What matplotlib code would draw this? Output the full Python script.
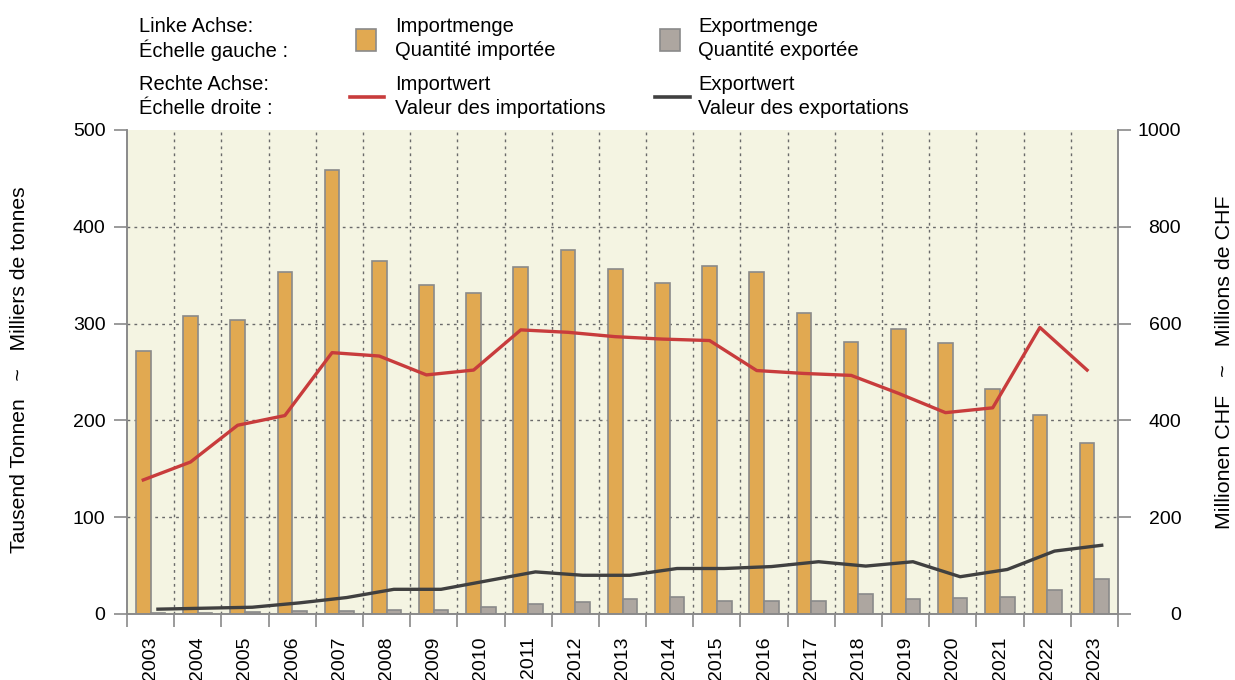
import matplotlib.pyplot as plt
from matplotlib.patches import Rectangle
from matplotlib.lines import Line2D
import numpy as np

plt.rcParams['font.family'] = ['Liberation Sans', 'DejaVu Sans']

# Daten
jahre = [str(j) for j in range(2003, 2024)]
import_menge = [272, 308, 304, 353, 459, 365, 340, 332, 358, 376, 356,
                342, 360, 353, 311, 281, 294, 280, 232, 206, 177]
export_menge = [1, 1, 2, 3, 3, 4, 4, 7, 10, 12, 15,
                18, 13, 13, 13, 21, 16, 17, 18, 25, 36]
import_wert = [277, 314, 390, 410, 540, 533, 494, 504, 587, 582, 573,
               568, 565, 503, 497, 493, 456, 416, 426, 592, 504]
export_wert = [10, 12, 14, 23, 34, 51, 51, 69, 87, 80, 80,
               94, 94, 98, 108, 99, 108, 77, 92, 130, 142]

C_IMPORT = '#E1A951'
C_EXPORT = '#ADA6A0'
C_ROT = '#C83C3C'
C_SCHWARZ = '#404040'
C_RAND = '#8A8A8A'
C_HG = '#F4F4E2'

fig = plt.figure(figsize=(12.35, 6.8), dpi=100)
ax = fig.add_axes([127 / 1235, 1 - 614 / 680, (1118 - 127) / 1235, (614 - 130) / 680])
ax2 = ax.twinx()

x = np.arange(len(jahre))
bw = 0.31

ax.set_facecolor(C_HG)
ax.bar(x - bw / 2, import_menge, bw, color=C_IMPORT, edgecolor=C_RAND, linewidth=1.2, zorder=3)
ax.bar(x + bw / 2, export_menge, bw, color=C_EXPORT, edgecolor=C_RAND, linewidth=1.2, zorder=3)

ax2.plot(x - bw / 2, import_wert, color=C_ROT, linewidth=2.4, zorder=4)
ax2.plot(x + bw / 2, export_wert, color=C_SCHWARZ, linewidth=2.4, zorder=4)

# Achsen
ax.set_xlim(-0.5, len(jahre) - 0.5)
ax.set_ylim(0, 500)
ax2.set_ylim(0, 1000)
ax.set_yticks(range(0, 501, 100))
ax2.set_yticks(range(0, 1001, 200))

ax.set_xticks(np.arange(-0.5, len(jahre), 1.0))
ax.set_xticklabels([])
ax.set_xticks(x, minor=True)
ax.set_xticklabels(jahre, minor=True, rotation=90, va='top')
ax.tick_params(axis='x', which='major', length=9.5, color=C_RAND, width=1.2)
ax.tick_params(axis='x', which='minor', length=0, pad=16, labelsize=14)
ax.tick_params(axis='y', length=9.5, color=C_RAND, width=1.2, labelsize=14, pad=6)
ax2.tick_params(axis='y', length=9.5, color=C_RAND, width=1.2, labelsize=14, pad=36)
for lab in ax2.get_yticklabels():
    lab.set_horizontalalignment('right')

for a in (ax, ax2):
    for s in a.spines.values():
        s.set_color(C_RAND)
        s.set_linewidth(1.2)
    a.spines['top'].set_visible(False)

# Gitter
for xv in np.arange(0.5, len(jahre) - 1, 1.0):
    ax.axvline(xv, color='#6a6a6a', linestyle=(0, (2, 3)), linewidth=1, zorder=1)
for yv in range(100, 500, 100):
    ax.axhline(yv, color='#6a6a6a', linestyle=(0, (2, 3)), linewidth=1, zorder=1)

# Legende / Beschriftungen in Pixelkoordinaten
def fx(px):
    return px / 1235

def fy(py):
    return 1 - py / 680

fig.text(fx(20), fy(370), 'Tausend Tonnen   ~   Milliers de tonnes', fontsize=15.2,
         rotation=90, ha='center', va='center')
fig.text(fx(1225), fy(362), 'Millionen CHF   ~   Millions de CHF', fontsize=15.4,
         rotation=90, ha='center', va='center')

fs = 14.5
fig.text(fx(139), fy(27), 'Linke Achse:', fontsize=fs, va='center')
fig.text(fx(139), fy(50), 'Échelle gauche :', fontsize=fs, va='center')
fig.text(fx(139), fy(85), 'Rechte Achse:', fontsize=fs, va='center')
fig.text(fx(139), fy(109), 'Échelle droite :', fontsize=fs, va='center')

fig.add_artist(Rectangle((fx(356), fy(51)), fx(376) - fx(356), fy(29) - fy(51),
                         transform=fig.transFigure, facecolor=C_IMPORT, edgecolor=C_RAND, linewidth=1.2))
fig.add_artist(Rectangle((fx(660), fy(51)), fx(680) - fx(660), fy(29) - fy(51),
                         transform=fig.transFigure, facecolor=C_EXPORT, edgecolor=C_RAND, linewidth=1.2))
fig.add_artist(Line2D([fx(350), fx(384)], [fy(97), fy(97)], transform=fig.transFigure,
                      color=C_ROT, linewidth=2.6))
fig.add_artist(Line2D([fx(655), fx(690)], [fy(97), fy(97)], transform=fig.transFigure,
                      color=C_SCHWARZ, linewidth=2.6))

fig.text(fx(395), fy(27), 'Importmenge', fontsize=fs, va='center')
fig.text(fx(395), fy(50), 'Quantité importée', fontsize=fs, va='center')
fig.text(fx(698), fy(27), 'Exportmenge', fontsize=fs, va='center')
fig.text(fx(698), fy(50), 'Quantité exportée', fontsize=fs, va='center')
fig.text(fx(395), fy(85), 'Importwert', fontsize=fs, va='center')
fig.text(fx(395), fy(109), 'Valeur des importations', fontsize=fs, va='center')
fig.text(fx(698), fy(85), 'Exportwert', fontsize=fs, va='center')
fig.text(fx(698), fy(109), 'Valeur des exportations', fontsize=fs, va='center')

fig.savefig('out.png', dpi=100, facecolor='white')
